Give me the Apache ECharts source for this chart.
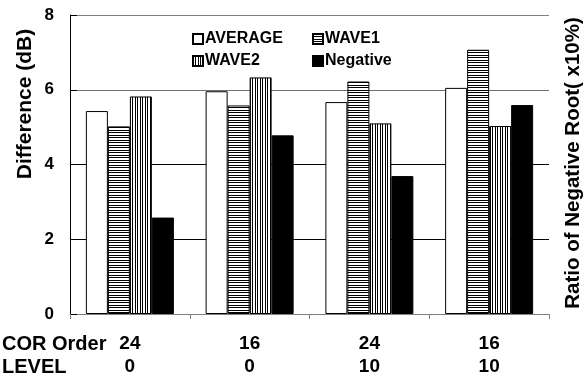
<!DOCTYPE html>
<html><head><meta charset="utf-8">
<script src="https://cdn.jsdelivr.net/npm/echarts@6/dist/echarts.min.js"></script>
<style>html,body{margin:0;padding:0;background:#fff}#c{width:585px;height:379px}</style>
</head><body><div id="c"></div>
<script>
var corOrder = ['24', '16', '24', '16'];
var level = ['0', '0', '10', '10'];
var average = [5.43, 5.96, 5.67, 6.05];
var wave1 = [5.02, 5.58, 6.22, 7.07];
var wave2 = [5.82, 6.33, 5.10, 5.03];
var negative = [2.58, 4.78, 3.69, 5.59];
var yTicks = [0, 2, 4, 6, 8];

function stripes(horizontal) {
  var c = document.createElement('canvas');
  c.width = 5; c.height = 5;
  var g = c.getContext('2d');
  g.fillStyle = '#fff'; g.fillRect(0, 0, 5, 5);
  g.fillStyle = '#000';
  if (horizontal) { g.fillRect(0, 0, 5, 1); g.fillRect(0, 2, 5, 1); }
  else { g.fillRect(0, 0, 1, 5); g.fillRect(2, 0, 1, 5); }
  return c;
}
var font = 'Arial, "Liberation Sans", sans-serif';
var chart = echarts.init(document.getElementById('c'), null, {renderer: 'canvas'});
var cats = corOrder.map(function (c, i) { return c + '\n' + level[i]; });
var bs = {borderColor: '#000', borderWidth: 1};
function ser(name, data, color) {
  return {name: name, type: 'bar', data: data, barWidth: 22, barGap: 0,
    itemStyle: Object.assign({color: color}, bs), emphasis: {disabled: true}, animation: false};
}
var legTxt = {fontWeight: 'bold', fontSize: 16, color: '#000', fontFamily: font, padding: [0, 0, 0, -3]};
chart.setOption({
  animation: false,
  textStyle: {fontFamily: font},
  grid: {left: 70, right: 36, top: 15, bottom: 65},
  legend: [
    {orient: 'vertical', left: 187, top: 26, itemWidth: 10, itemHeight: 10, itemGap: 6, icon: 'rect',
     data: ['AVERAGE', 'WAVE2'], textStyle: legTxt, selectedMode: false},
    {orient: 'vertical', left: 307, top: 26, itemWidth: 10, itemHeight: 10, itemGap: 6, icon: 'rect',
     data: ['WAVE1', 'Negative'], textStyle: legTxt, selectedMode: false}
  ],
  xAxis: {type: 'category', data: cats,
    axisLine: {lineStyle: {color: '#808080', width: 1}},
    axisTick: {show: true, length: 5, lineStyle: {color: '#808080'}},
    axisLabel: {fontWeight: 'bold', fontSize: 19, color: '#000', lineHeight: 23, margin: 18, fontFamily: font}
  },
  yAxis: [
    {type: 'value', min: yTicks[0], max: yTicks[yTicks.length - 1], interval: 2,
     axisLine: {show: true, lineStyle: {color: '#000'}},
     axisTick: {show: true, inside: true, length: 7, lineStyle: {color: '#000'}},
     axisLabel: {fontWeight: 'bold', fontSize: 17, color: '#000', margin: 16, fontFamily: font},
     splitLine: {show: true, lineStyle: {color: ['#808080', '#000', '#000', '#707070', '#808080']}}
    },
    {type: 'value', min: 0, max: 8, interval: 2, position: 'right',
     axisLine: {show: false}, axisTick: {show: false}, axisLabel: {show: false}, splitLine: {show: false}}
  ],
  graphic: [
    {type: 'text', x: 2, y: 344, style: {text: 'COR Order', font: 'bold 20px ' + font, fill: '#000', verticalAlign: 'middle'}},
    {type: 'text', x: 2, y: 367, style: {text: 'LEVEL', font: 'bold 20px ' + font, fill: '#000', verticalAlign: 'middle'}},
    {type: 'text', x: 25, y: 104, rotation: Math.PI / 2, style: {text: 'Difference (dB)', font: 'bold 21px ' + font, fill: '#000', align: 'center', verticalAlign: 'middle'}},
    {type: 'text', x: 573, y: 163, rotation: Math.PI / 2, style: {text: 'Ratio of Negative Root( x10%)', font: 'bold 20.5px ' + font, fill: '#000', align: 'center', verticalAlign: 'middle'}}
  ],
  series: [
    ser('AVERAGE', average, '#fff'),
    ser('WAVE1', wave1, {image: stripes(true), repeat: 'repeat'}),
    ser('WAVE2', wave2, {image: stripes(false), repeat: 'repeat'}),
    ser('Negative', negative, '#000')
  ]
});
</script></body></html>
